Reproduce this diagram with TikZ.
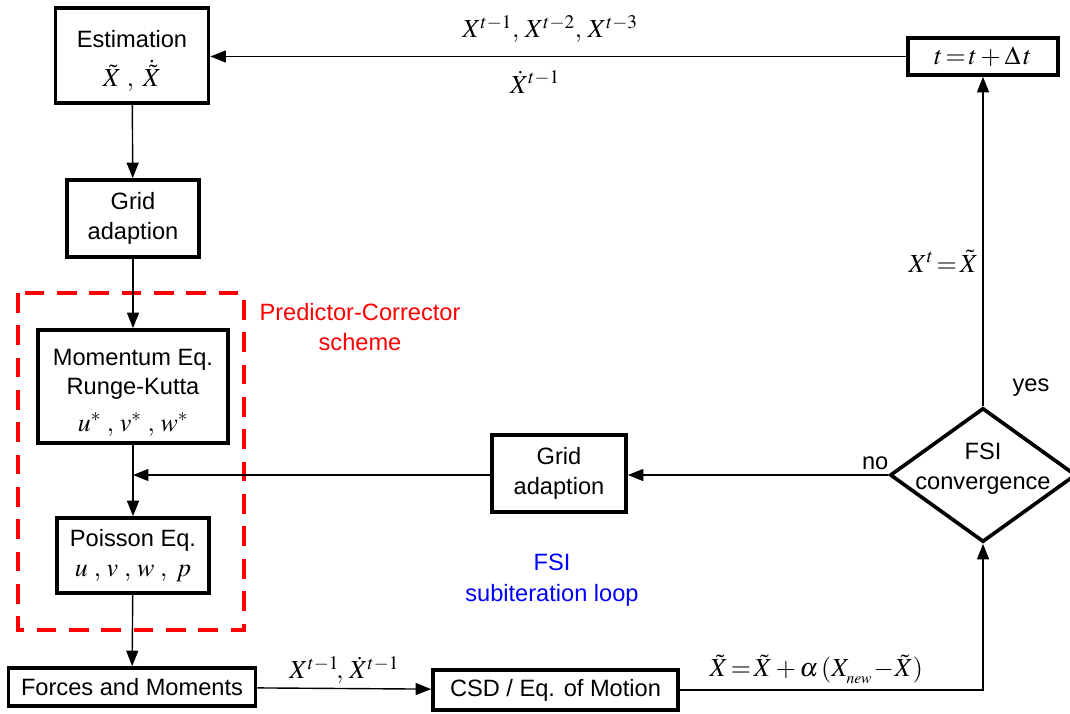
\documentclass[tikz,border=0pt]{standalone}
\usepackage{mathptmx}
\usepackage[no-math]{fontspec}
\setmainfont{Liberation Sans}
\usepackage{xcolor}
\usepackage{tikz}
\usetikzlibrary{shapes.geometric, arrows.meta, positioning, calc}
\definecolor{schemered}{RGB}{255,0,0}
\definecolor{loopblue}{RGB}{0,0,255}
\newcommand{\mfont}{\fontsize{18.5}{22}\selectfont}
\tikzset{
    box/.style={rectangle, draw=black, line width=2.6pt, fill=white, inner sep=0pt,
                align=center, font=\fontsize{16.8}{21}\selectfont},
    decision/.style={diamond, draw=black, line width=2.6pt, fill=white, inner sep=0pt,
                     minimum width=4.65cm, minimum height=3.35cm},
    arrow/.style={line width=1pt, -{Triangle[length=11pt, width=8.5pt]}},
    lbl/.style={font=\fontsize{16.8}{21}\selectfont, inner sep=1pt},
    mlbl/.style={font=\mfont, inner sep=1pt}
}

\begin{document}
\begin{tikzpicture}[x=0.025cm, y=-0.025cm]
    \useasboundingbox (0,0) rectangle (1070,713);

    % Predictor-Corrector region
    \draw[schemered, line width=2.6pt, dash pattern=on 14pt off 9pt] (18,293) rectangle (244,630);
    \node[lbl, schemered, align=center] (pcs) at (360,327)
        {Predictor-Corrector\\scheme};

    % Main column
    \node[box, minimum width=3.825cm, minimum height=2.375cm] (est) at (132,55.5)
        {\rule{0pt}{20pt}Estimation\\[7pt]{\mfont$\tilde{X}\;,\;\dot{\tilde{X}}$}};
    \node[box, minimum width=3.3cm, minimum height=1.925cm] (grid) at (133,218.5)
        {Grid\\adaption};
    \node[box, minimum width=4.75cm, minimum height=2.825cm] (mom) at (133,386.5)
        {\rule{0pt}{20pt}Momentum Eq.\\Runge-Kutta\\[5pt]{\mfont$u^{*}\;,\,v^{*}\;,\,w^{*}$}};
    \node[box, minimum width=3.8cm, minimum height=1.875cm] (poisson) at (133,555.5)
        {Poisson Eq.\\{\mfont$u\;,\,v\;,\,w\;,\;p$}};
    \node[box, minimum width=6.175cm, minimum height=0.95cm] (forces) at (132,687)
        {Forces and Moments};

    % Structure side
    \node[box, minimum width=6.125cm, minimum height=1.0cm] (csd) at (555.5,690)
        {CSD / Eq. of Motion};
    \node[decision, label={[lbl, align=center, yshift=4.5pt]center:{FSI\\convergence}}] (conv) at (983,475) {};
    \node[box, minimum width=3.35cm, minimum height=1.925cm] (fsigrid) at (559,473.5)
        {Grid\\adaption};
    \node[box, minimum width=3.75cm, minimum height=0.925cm] (tstep) at (983,56.5)
        {\mfont$t\!=\!t+\Delta\,t$};

    % Subiteration label
    \node[lbl, loopblue, align=center, font=\fontsize{16.8}{22}\selectfont] (fsiloop) at (552,580)
        {FSI\\subiteration loop};

    % Arrows
    \draw[arrow] (est) -- (grid);
    \draw[arrow] (grid) -- (mom);
    \draw[arrow] (mom) -- (poisson);
    \draw[arrow] (poisson) -- (forces);
    \draw[arrow] (forces) -- node[mlbl, above=2pt] {$X^{t-1}\!,\,\dot{X}^{t-1}$} (csd);
    \draw[arrow] (csd.east) -- node[mlbl, above=3pt, pos=0.45] {$\tilde{X}\!=\!\tilde{X}+\alpha\,(X_{_{new}}\!-\!\tilde{X})$}
        (csd.east -| conv.south) -- (conv.south);
    \draw[arrow] (conv.north) -- node[mlbl, left=2pt, pos=0.44] {$X^{t}\!=\!\tilde{X}$} (tstep.south);
    \node[lbl] (yes) at (1031,388) {yes};
    \coordinate (nojoin) at (conv.west -| fsigrid.east);
    \draw[arrow] (conv.west) -- node[lbl, above=2pt, pos=0.05] {no} (nojoin);
    \coordinate (merge) at (conv.west -| mom.south);
    \draw[arrow] (fsigrid.west |- conv.west) -- (merge);
    \coordinate (back) at (tstep.west -| est.east);
    \draw[arrow] (tstep.west) -- (back);
    \node[mlbl] (hist) at (550,29) {$X^{t-1},\,X^{t-2},\,X^{t-3}$};
    \node[mlbl] (histdot) at (535,82) {$\dot{X}^{t-1}$};
\end{tikzpicture}
\end{document}
